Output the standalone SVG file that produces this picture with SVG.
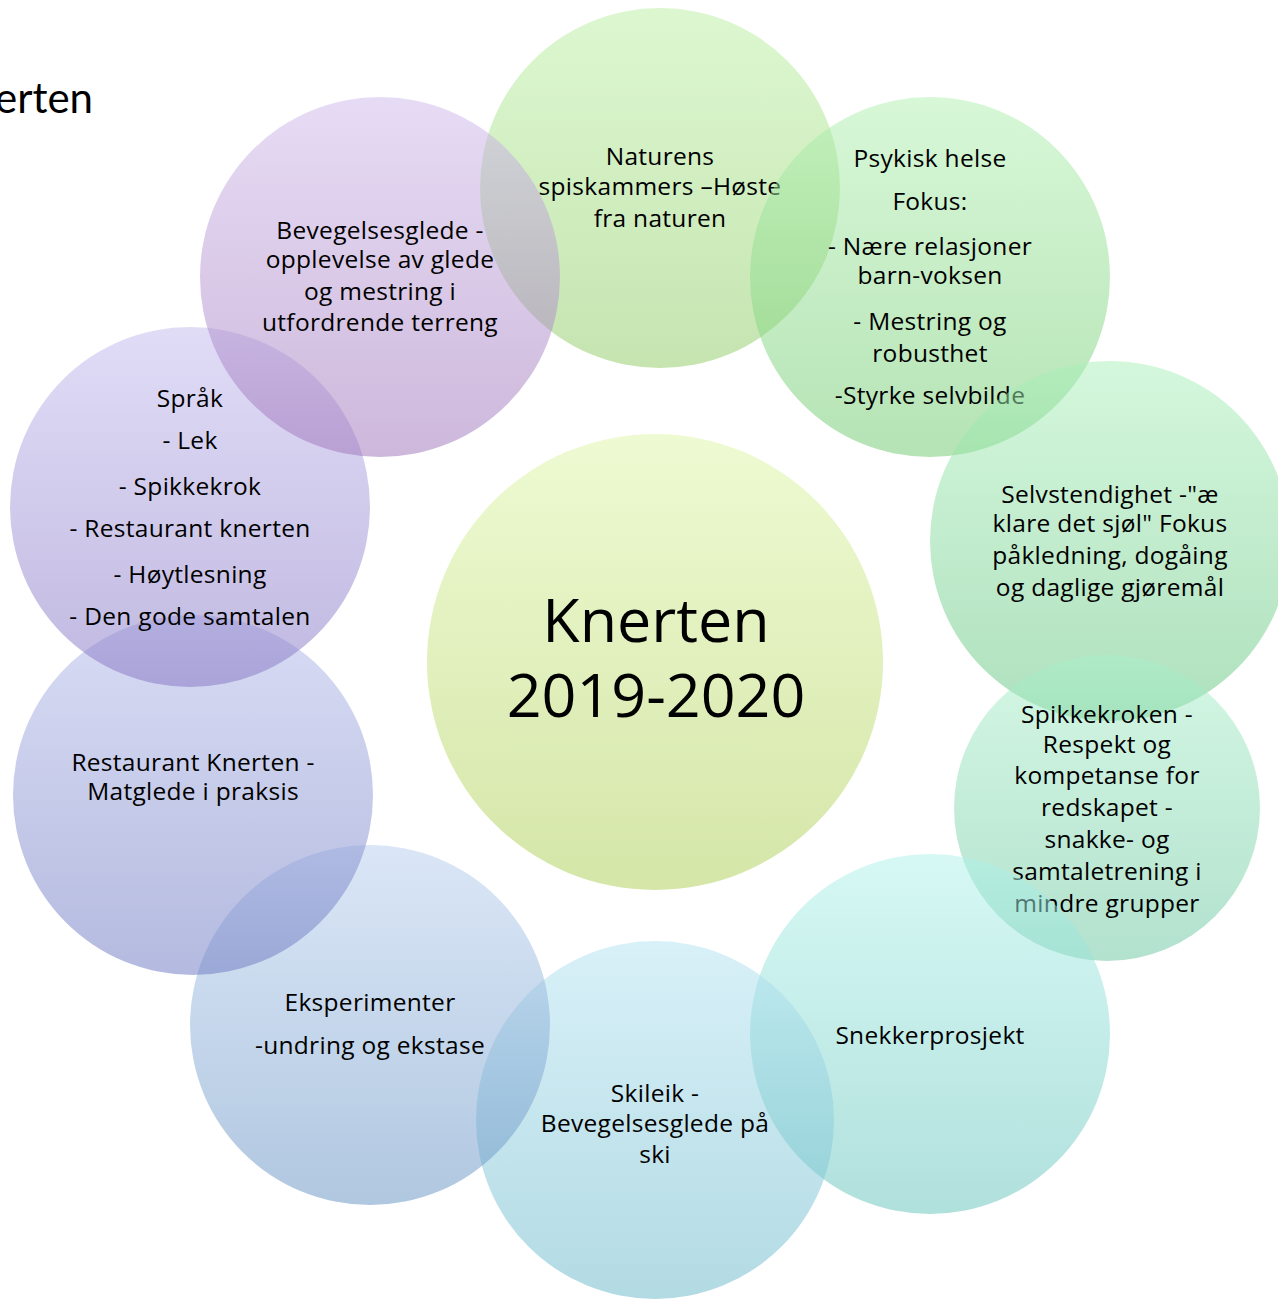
<svg xmlns="http://www.w3.org/2000/svg" width="1278" height="1300" viewBox="0 0 1278 1300">
<defs>
<linearGradient id="gC" x1="0" y1="0" x2="0" y2="1"><stop offset="0" stop-color="#eefad2"/><stop offset="1" stop-color="#d5e6a8"/></linearGradient>
<linearGradient id="g1" x1="0" y1="0" x2="0" y2="1"><stop offset="0" stop-color="#baf0a2"/><stop offset="1" stop-color="#8dca62"/></linearGradient>
<linearGradient id="g2" x1="0" y1="0" x2="0" y2="1"><stop offset="0" stop-color="#b0f0b0"/><stop offset="1" stop-color="#6cc86c"/></linearGradient>
<linearGradient id="g3" x1="0" y1="0" x2="0" y2="1"><stop offset="0" stop-color="#aaf0ba"/><stop offset="1" stop-color="#5ec27c"/></linearGradient>
<linearGradient id="g4" x1="0" y1="0" x2="0" y2="1"><stop offset="0" stop-color="#aaf0ca"/><stop offset="1" stop-color="#66c49c"/></linearGradient>
<linearGradient id="g5" x1="0" y1="0" x2="0" y2="1"><stop offset="0" stop-color="#aef2ea"/><stop offset="1" stop-color="#62c2ba"/></linearGradient>
<linearGradient id="g6" x1="0" y1="0" x2="0" y2="1"><stop offset="0" stop-color="#b2e2f2"/><stop offset="1" stop-color="#66b6c8"/></linearGradient>
<linearGradient id="g7" x1="0" y1="0" x2="0" y2="1"><stop offset="0" stop-color="#b6ceee"/><stop offset="1" stop-color="#6290c2"/></linearGradient>
<linearGradient id="g8" x1="0" y1="0" x2="0" y2="1"><stop offset="0" stop-color="#b2baea"/><stop offset="1" stop-color="#6a76c0"/></linearGradient>
<linearGradient id="g9" x1="0" y1="0" x2="0" y2="1"><stop offset="0" stop-color="#c2baee"/><stop offset="1" stop-color="#8272c2"/></linearGradient>
<linearGradient id="g10" x1="0" y1="0" x2="0" y2="1"><stop offset="0" stop-color="#ceb8ea"/><stop offset="1" stop-color="#9c72b8"/></linearGradient>
</defs>
<style>
text{font-family:"Open Sans","Noto Sans","Liberation Sans",sans-serif;fill:#000;text-anchor:middle;font-size:24.5px;letter-spacing:0.3px}
.c{fill-opacity:0.5}
.big{font-size:61px;letter-spacing:0}
.t{font-family:Lato,"Open Sans",sans-serif;font-size:42px;text-anchor:end;letter-spacing:0}
</style>
<g id="title"><text class="t" x="93" y="113">erten</text></g>
<g id="center">
<circle cx="655" cy="662" r="228" fill="url(#gC)"/>
<text class="big" x="656" y="642">Knerten</text>
<text class="big" x="656" y="717">2019-2020</text>
</g>
<g id="connectors"></g>
<g id="n1">
<circle class="c" cx="660" cy="188" r="180" fill="url(#g1)"/>
<text x="660" y="165">Naturens</text>
<text x="660" y="195">spiskammers –Høste</text>
<text x="660" y="227">fra naturen</text>
</g>
<g id="n2">
<circle class="c" cx="930" cy="277" r="180" fill="url(#g2)"/>
<text x="930" y="167">Psykisk helse</text>
<text x="930" y="210">Fokus:</text>
<text x="930" y="255">- Nære relasjoner</text>
<text x="930" y="284">barn-voksen</text>
<text x="930" y="330">- Mestring og</text>
<text x="930" y="362">robusthet</text>
<text x="930" y="404">-Styrke selvbilde</text>
</g>
<g id="n3">
<circle class="c" cx="1110" cy="541" r="180" fill="url(#g3)"/>
<text x="1110" y="503">Selvstendighet -"æ</text>
<text x="1110" y="532">klare det sjøl" Fokus</text>
<text x="1110" y="564">påkledning, dogåing</text>
<text x="1110" y="596">og daglige gjøremål</text>
</g>
<g id="n4">
<circle class="c" cx="1107" cy="808" r="153" fill="url(#g4)"/>
<text x="1107" y="723">Spikkekroken -</text>
<text x="1107" y="753">Respekt og</text>
<text x="1107" y="784">kompetanse for</text>
<text x="1107" y="816">redskapet  -</text>
<text x="1107" y="848">snakke- og</text>
<text x="1107" y="880">samtaletrening i</text>
<text x="1107" y="912">mindre grupper</text>
</g>
<g id="n5">
<circle class="c" cx="930" cy="1034" r="180" fill="url(#g5)"/>
<text x="930" y="1044">Snekkerprosjekt</text>
</g>
<g id="n6">
<circle class="c" cx="655" cy="1120" r="179" fill="url(#g6)"/>
<text x="655" y="1102">Skileik -</text>
<text x="655" y="1132">Bevegelsesglede på</text>
<text x="655" y="1163">ski</text>
</g>
<g id="n7">
<circle class="c" cx="370" cy="1025" r="180" fill="url(#g7)"/>
<text x="370" y="1011">Eksperimenter</text>
<text x="370" y="1054">-undring og ekstase</text>
</g>
<g id="n8">
<circle class="c" cx="193" cy="795" r="180" fill="url(#g8)"/>
<text x="193" y="771">Restaurant Knerten -</text>
<text x="193" y="800">Matglede i praksis</text>
</g>
<g id="n9">
<circle class="c" cx="190" cy="507" r="180" fill="url(#g9)"/>
<text x="190" y="407">Språk</text>
<text x="190" y="449">- Lek</text>
<text x="190" y="495">- Spikkekrok</text>
<text x="190" y="537">- Restaurant knerten</text>
<text x="190" y="583">- Høytlesning</text>
<text x="190" y="625">- Den gode samtalen</text>
</g>
<g id="n10">
<circle class="c" cx="380" cy="277" r="180" fill="url(#g10)"/>
<text x="380" y="239">Bevegelsesglede -</text>
<text x="380" y="268">opplevelse av glede</text>
<text x="380" y="300">og mestring i</text>
<text x="380" y="331">utfordrende terreng</text>
</g>
</svg>
